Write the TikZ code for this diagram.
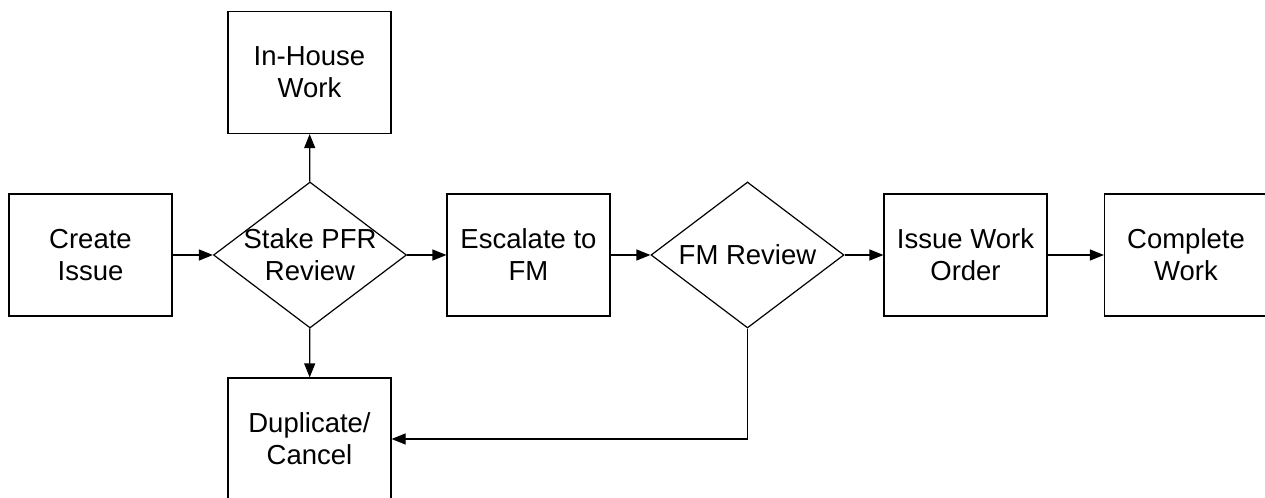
\documentclass[tikz,border=0pt]{standalone}
\usepackage{fontspec}
\setmainfont{Liberation Sans}
\usetikzlibrary{shapes.geometric,arrows.meta}

\begin{document}
\begin{tikzpicture}[x=0.5pt, y=0.5pt,
    every node/.style={font=\fontsize{13.75}{16}\selectfont},
    box/.style={draw, line width=0.6pt, minimum width=81.5pt, minimum height=61pt, inner sep=0pt, align=center},
    decision/.style={draw, diamond, line width=0.6pt, minimum width=96.5pt, minimum height=73pt, inner sep=0pt},
    arr/.style={line width=0.6pt, -{Triangle[length=7pt, width=5.5pt]}}]
\useasboundingbox (0,0) rectangle (1265,498);
% main row
\node[box] (create) at (90.5,243) {Create\\Issue};
\node[decision, label={[align=center]center:Stake PFR\\Review}] (stake) at (310,243) {};
\node[box] (esc) at (528.5,243) {Escalate to\\FM};
\node[decision, label={center:FM Review}] (fm) at (747.5,243) {};
\node[box] (order) at (965.5,243) {Issue Work\\Order};
\node[box] (done) at (1186,243) {Complete\\Work};
% side outcomes
\node[box] (inhouse) at (309.5,425.5) {In-House\\Work};
\node[box] (dup) at (309.5,59) {Duplicate/\\Cancel};
\foreach \a/\b in {create/stake, stake/esc, esc/fm, fm/order, order/done} {
    \draw[arr] (\a) -- (\b);
}
\draw[arr] (stake) -- (inhouse);
\draw[arr] (stake) -- (dup);
% rejected by FM
\draw[arr] (fm.south) |- (dup.east);
\end{tikzpicture}
\end{document}
